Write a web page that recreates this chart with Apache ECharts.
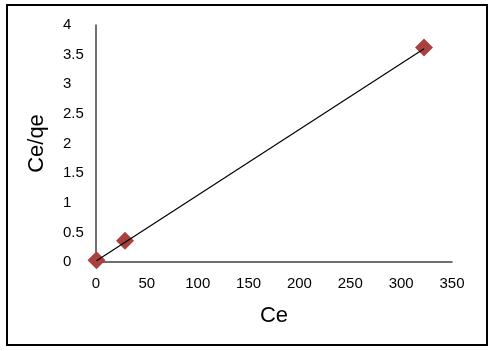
<!DOCTYPE html>
<html>
<head>
<meta charset="utf-8">
<script src="https://cdn.jsdelivr.net/npm/echarts@6/dist/echarts.min.js"></script>
<style>
  html, body { margin: 0; padding: 0; background: #fff; }
  #chart { width: 491px; height: 351px; }
</style>
</head>
<body>
<div id="chart"></div>
<script>
// measured points (Ce, Ce/qe)
const ceValues = [0.5, 28.5, 322.5]
const ceQeValues = [0.03, 0.36, 3.62]

// linear trendline endpoints
const trendCe = [0.5, 322.5]
const trendCeQe = [0.02, 3.6]

const points = ceValues.map((x, i) => [x, ceQeValues[i]])
const trend = trendCe.map((x, i) => [x, trendCeQe[i]])

const chart = echarts.init(document.getElementById('chart'))

chart.setOption({
  animation: false,
  textStyle: { fontFamily: 'Liberation Sans' },
  graphic: [
    {
      type: 'rect',
      shape: { x: 7, y: 5, width: 480, height: 340 },
      style: { fill: 'none', stroke: '#000', lineWidth: 2 },
      silent: true,
    },
  ],
  grid: { left: 96, right: 39, top: 25, bottom: 89 },
  xAxis: {
    type: 'value',
    min: 0,
    max: 350,
    interval: 50,
    name: 'Ce',
    nameLocation: 'middle',
    nameGap: 43,
    nameTextStyle: { fontSize: 22, color: '#000' },
    axisLine: { lineStyle: { color: '#404040', width: 1.5 } },
    axisTick: { show: false },
    splitLine: { show: false },
    axisLabel: { color: '#000', fontSize: 15, margin: 14 },
  },
  yAxis: {
    type: 'value',
    min: 0,
    max: 4,
    interval: 0.5,
    name: 'Ce/qe',
    nameLocation: 'middle',
    nameGap: 48,
    nameTextStyle: { fontSize: 22, color: '#000' },
    axisLine: { show: true, lineStyle: { color: '#404040', width: 1.5 } },
    axisTick: { show: false },
    splitLine: { show: false },
    axisLabel: { color: '#000', fontSize: 15, margin: 33, align: 'left' },
  },
  series: [
    {
      type: 'line',
      data: trend,
      showSymbol: false,
      lineStyle: { color: '#000', width: 1.2 },
      z: 3,
    },
    {
      type: 'scatter',
      data: points,
      symbol: 'diamond',
      symbolSize: 18,
      itemStyle: { color: '#A8413F', opacity: 1 },
      z: 2,
    },
  ],
})
</script>
</body>
</html>
